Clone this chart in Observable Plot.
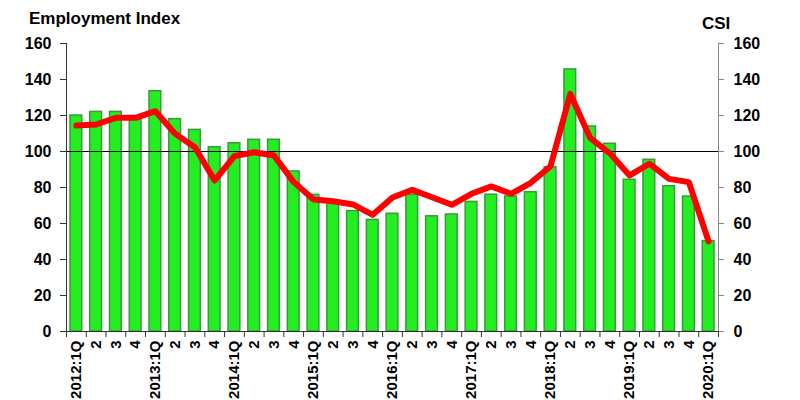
<!DOCTYPE html>
<html>
<head>
<meta charset="utf-8">
<script src="https://cdn.jsdelivr.net/npm/d3@7"></script>
<script src="https://cdn.jsdelivr.net/npm/@observablehq/plot@0.6"></script>
<style>
  html, body { margin: 0; padding: 0; background: #fff; }
  #chart { position: relative; width: 800px; height: 400px; overflow: hidden; font-family: "Liberation Sans", Arial, sans-serif; }
  .ttl { position: absolute; font-weight: bold; font-size: 17px; color: #000; }
</style>
</head>
<body>
<div id="chart">
  <div class="ttl" style="left:29px; top:9px;">Employment Index</div>
  <div class="ttl" style="left:702px; top:14px;">CSI</div>
</div>
<script>
const quarters = ["2012:1Q","2","3","4","2013:1Q","2","3","4","2014:1Q","2","3","4","2015:1Q","2","3","4","2016:1Q","2","3","4","2017:1Q","2","3","4","2018:1Q","2","3","4","2019:1Q","2","3","4","2020:1Q"];
const employment = [120,122,122,119,133.5,118,112,102.4,104.6,106.5,106.5,88.9,75.9,71,66.9,62,65.4,76,64,65,72,76,75,77.4,91.3,145.6,113.9,104.3,84.3,95.4,80.7,75,50.2];
const csi = [114.4,115,118.7,118.7,122.4,109.8,102.4,83.9,97.4,99.6,97.8,83,73.3,72.4,70.6,64.8,74.4,78.7,74.6,70.4,76.5,80.6,76.5,82.6,91.8,132,107.6,99,86.7,93.2,84.8,83,50];
const yTicks = [0,20,40,60,80,100,120,140,160];
const refLine = [100];

const data = quarters.map((q, i) => ({i, q, emp: employment[i], csi: csi[i]}));
const n = quarters.length;

const chart = Plot.plot({
  width: 800,
  height: 400,
  marginLeft: 66,
  marginRight: 82,
  marginTop: 43,
  marginBottom: 69,
  style: {fontFamily: "'Liberation Sans', Arial, sans-serif", background: "transparent", overflow: "visible"},
  x: {domain: [0, n], axis: null},
  y: {domain: [0, 160], axis: null},
  marks: [
    Plot.rectY(data, {x1: d => d.i, x2: d => d.i + 1, y: "emp", insetLeft: 4, insetRight: 4, fill: "#22ee22", stroke: "#3a9a3a", strokeWidth: 1.5}),
    Plot.ruleY(refLine, {stroke: "#000", strokeWidth: 1}),
    Plot.lineY(data, {x: d => d.i + 0.5, y: "csi", stroke: "#ff0000", strokeWidth: 6, strokeLinejoin: "round", strokeLinecap: "round"}),
    Plot.ruleX([0], {stroke: "#333", strokeWidth: 1}),
    Plot.ruleX([n], {stroke: "#888", strokeWidth: 1}),
    Plot.ruleY([0], {stroke: "#333", strokeWidth: 1}),
    Plot.axisY({anchor: "left", ticks: yTicks, tickSize: 6, tickPadding: 9, fontSize: 16, fontWeight: "bold", label: null, color: "#000", stroke: "#333"}),
    Plot.axisY({anchor: "right", ticks: yTicks, tickSize: 5, tickPadding: 10, fontSize: 16, fontWeight: "bold", label: null, color: "#000", stroke: "#888"}),
    Plot.axisX({ticks: d3.range(0, n + 1), tickFormat: () => "", tickSize: 6, label: null, stroke: "#333"}),
    Plot.text(data, {x: d => d.i + 0.5, y: 0, text: "q", rotate: -90, textAnchor: "end", dy: 9, fontSize: 15, fontWeight: "bold", fill: "#000"})
  ]
});
document.getElementById("chart").appendChild(chart);
</script>
</body>
</html>
